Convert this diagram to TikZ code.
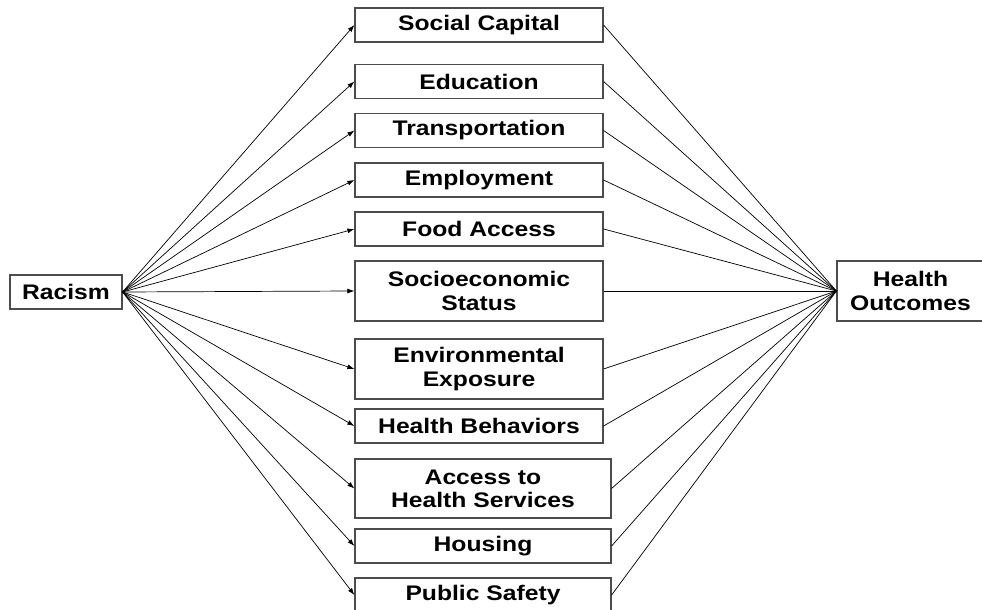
\documentclass[tikz,border=0pt]{standalone}
\usepackage{fontspec}
\setmainfont[FakeStretch=1.17]{Liberation Sans}
\usepackage{tikz}
\usetikzlibrary{arrows.meta,shapes}
\tikzstyle{factor}=[draw=black!70,line width=0.8pt,minimum width=6.2cm,minimum height=0.85cm,inner sep=0pt,align=center,font=\fontsize{15}{16.5}\selectfont\bfseries]
\tikzstyle{wide factor}=[factor,minimum width=6.4cm]
\tikzstyle{tall}=[minimum height=1.5cm]
\tikzstyle{edge} = [draw,line width=0.5pt,-]
\tikzstyle{arrow edge} = [draw,line width=0.5pt,-{Latex[length=5pt,width=3.5pt]}]

\begin{document}
\begin{tikzpicture}[x=0.025cm,y=-0.025cm]
        \useasboundingbox (0,0) rectangle (982,610);
        %\fill[white] (0,0) rectangle (982,610);
        \node[factor,minimum width=2.8cm] (racism) at (66,292) {Racism};
        \node[factor] (social) at (479,25) {Social Capital};
        \node[factor] (edu) at (479,81.5) {Education};
        \node[factor] (transp) at (479,130.5) {Transportation};
        \node[factor] (employ) at (479,180) {Employment};
        \node[factor] (food) at (479,229) {Food Access};
        \node[factor,tall] (ses) at (479,291) {Socioeconomic\\Status};
        \node[factor,tall] (env) at (479,369) {Environmental\\Exposure};
        \node[factor] (behav) at (479,426) {Health Behaviors};
        \node[wide factor,minimum height=1.475cm] (access) at (483,488.5) {Access to\\Health Services};
        \node[wide factor] (housing) at (483,546) {Housing};
        \node[wide factor] (safety) at (483,595) {Public Safety};
        \node[factor,tall,minimum width=3.675cm] (outcomes) at (910.5,291) {Health\\Outcomes};
        \draw[arrow edge] (racism.east) to (social.west);
        \draw[arrow edge] (racism.east) to (edu.west);
        \draw[arrow edge] (racism.east) to (transp.west);
        \draw[arrow edge] (racism.east) to (employ.west);
        \draw[arrow edge] (racism.east) to (food.west);
        \draw[arrow edge] (racism.east) to (ses.west);
        \draw[arrow edge] (racism.east) to (env.west);
        \draw[arrow edge] (racism.east) to (behav.west);
        \draw[arrow edge] (racism.east) to (access.west);
        \draw[arrow edge] (racism.east) to (housing.west);
        \draw[arrow edge] (racism.east) to (safety.west);
        \draw[edge] (social.east) to (outcomes.west);
        \draw[edge] (edu.east) to (outcomes.west);
        \draw[edge] (transp.east) to (outcomes.west);
        \draw[edge] (employ.east) to (outcomes.west);
        \draw[edge] (food.east) to (outcomes.west);
        \draw[edge] (ses.east) to (outcomes.west);
        \draw[edge] (env.east) to (outcomes.west);
        \draw[edge] (behav.east) to (outcomes.west);
        \draw[edge] (access.east) to (outcomes.west);
        \draw[edge] (housing.east) to (outcomes.west);
        \draw[edge] (safety.east) to (outcomes.west);
      \end{tikzpicture}
\end{document}
